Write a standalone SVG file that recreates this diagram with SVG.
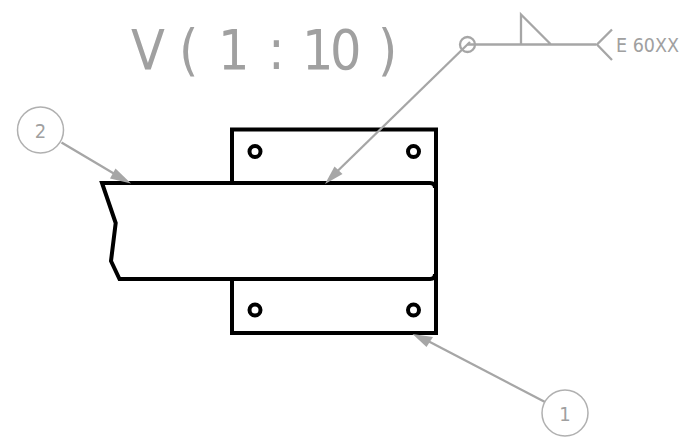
<svg xmlns="http://www.w3.org/2000/svg" width="686" height="437" viewBox="0 0 686 437">
<style>
.k{fill:none;stroke:#000;stroke-width:4;stroke-linejoin:miter}
.g{fill:none;stroke:#a6a6a6;stroke-width:2.300}
.c{fill:#fff;stroke:#b0b0b0;stroke-width:1.500}
.h{fill:#a6a6a6;stroke:none}
text{font-family:"DejaVu Sans Condensed","DejaVu Sans",sans-serif;fill:#a0a0a0}
</style>
<rect width="686" height="437" fill="#fff"/>
<g id="title"><text x="131 165 179 200 218 250 268 285 302 330 360 378" y="69" font-size="55">V ( 1 : 10 )</text></g>
<g id="plate">
<path class="k" d="M232 183V129.500H436V333H232V279"/>
<circle class="k" cx="255" cy="151.500" r="5.500"/>
<circle class="k" cx="413.500" cy="151.500" r="5.500"/>
<circle class="k" cx="255" cy="310" r="5.500"/>
<circle class="k" cx="413.500" cy="310" r="5.500"/>
</g>
<g id="beam">
<path class="k" d="M430 279H119.500L111 261L115.700 223L102 183H430Q435 183 435 188"/>
<path class="k" d="M430 279Q435 279 435 274"/>
</g>
<g id="connectors">
<path class="g" d="M61.500 142.500L118 176"/>
<path class="h" d="M131 183.500L110 178.500L115.500 168.500Z"/>
<path class="g" d="M470 42L335 173.500"/>
<path class="h" d="M325 184L334.500 166.500L342.500 174Z"/>
<path class="g" d="M545 402L428 341"/>
<path class="h" d="M412.500 334L433 337L426.500 347Z"/>
</g>
<g id="weld-symbol">
<circle class="g" cx="467.500" cy="44.500" r="7.500"/>
<path class="g" d="M467.500 44.500H596M521 44.500V14.500L551 44.500M612 29.500L597 44.500L612 60"/>
<text x="616" y="52" font-size="19.500">E 60XX</text>
</g>
<g id="balloon-2"><circle class="c" cx="40.500" cy="130" r="23"/><text x="40.500" y="137.500" font-size="20" text-anchor="middle">2</text></g>
<g id="balloon-1"><circle class="c" cx="565" cy="413" r="23"/><text x="565" y="420.500" font-size="20" text-anchor="middle">1</text></g>
</svg>
